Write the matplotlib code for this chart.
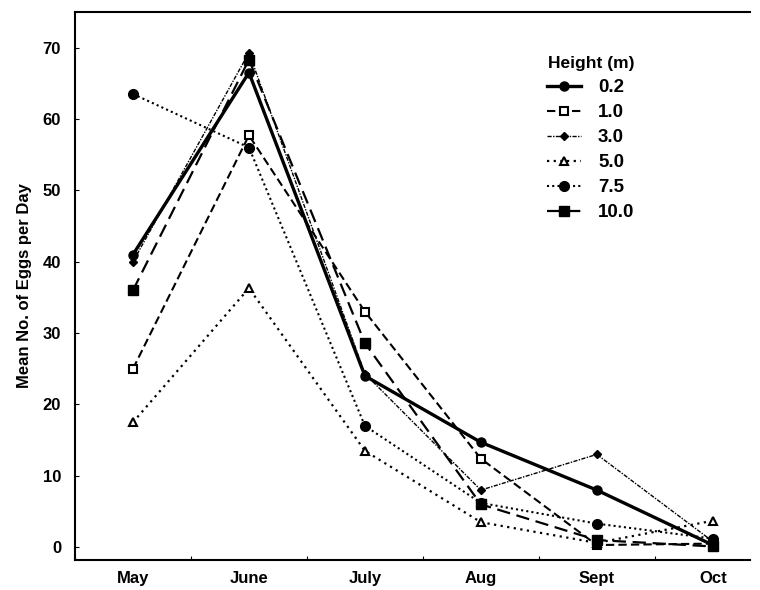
import matplotlib
matplotlib.use("Agg")
import matplotlib.pyplot as plt

months = ["May", "June", "July", "Aug", "Sept", "Oct"]
heights = ["0.2", "1.0", "3.0", "5.0", "7.5", "10.0"]

h02 = [41.0, 66.5, 24.0, 14.7, 8.0, 0.3]
h10 = [25.0, 57.7, 33.0, 12.4, 0.3, 0.5]
h30 = [40.0, 69.3, 24.3, 8.0, 13.0, 0.8]
h50 = [17.5, 36.3, 13.5, 3.5, 0.6, 3.7]
h75 = [63.5, 56.0, 17.0, 6.2, 3.3, 1.2]
h100 = [36.0, 68.3, 28.6, 6.0, 1.0, 0.1]

series = [h02, h10, h30, h50, h75, h100]
styles = [
    dict(ls="-", lw=2.4, marker="o", ms=6.5, mfc="black"),
    dict(ls=(0, (4, 2)), lw=1.5, marker="s", ms=6, mfc="white", mew=1.5),
    dict(ls=(0, (3, 1, 1, 1)), lw=1.0, marker="D", ms=4.5, mfc="black"),
    dict(ls=(0, (1, 2)), lw=1.6, marker="^", ms=6, mfc="white", mew=1.5),
    dict(ls=(0, (1, 1.5)), lw=1.5, marker="o", ms=7, mfc="black"),
    dict(ls=(0, (6, 3)), lw=1.6, marker="s", ms=6.5, mfc="black"),
]

plt.rcParams["font.family"] = ["Liberation Sans", "DejaVu Sans"]

fig = plt.figure(figsize=(7.6, 5.9), dpi=100)
ax = fig.add_axes([0.0987, 0.0508, 0.888, 0.929])

x = list(range(len(months)))
for name, vals, st in zip(heights, series, styles):
    ax.plot(x, vals, color="black", mec="black", label=name, **st)

# ticks between months, labels at months (set before limits: set_xticks can widen them)
ax.set_xticks([k + 0.5 for k in range(-1, 5)])
ax.set_xticklabels([])
ax.set_xticks(x, minor=True)
ax.set_xticklabels(months, minor=True, fontsize=12, fontweight="bold")
ax.tick_params(axis="x", which="major", direction="in", length=3)
ax.tick_params(axis="x", which="minor", length=0, pad=8)

ax.set_yticks([0, 10, 20, 30, 40, 50, 60, 70])
ax.tick_params(axis="y", direction="in", length=3, labelsize=12, pad=10)
for t in ax.get_yticklabels():
    t.set_fontweight("bold")

ax.set_xlim(-0.5, 5.32)
ax.set_ylim(-1.8, 75)

ax.set_ylabel("Mean No. of Eggs per Day", fontsize=12, fontweight="bold", labelpad=8)

ax.spines["right"].set_visible(False)
for s in ["left", "top", "bottom"]:
    ax.spines[s].set_linewidth(1.5)

leg = ax.legend(title="Height (m)", loc="upper left", bbox_to_anchor=(0.675, 0.95),
                frameon=False, handlelength=1.8, labelspacing=0.42,
                handletextpad=0.9, prop={"weight": "bold", "size": 13.5})
leg.get_title().set_fontweight("bold")
leg.get_title().set_fontsize(12.5)

fig.savefig("out.png", dpi=100)
